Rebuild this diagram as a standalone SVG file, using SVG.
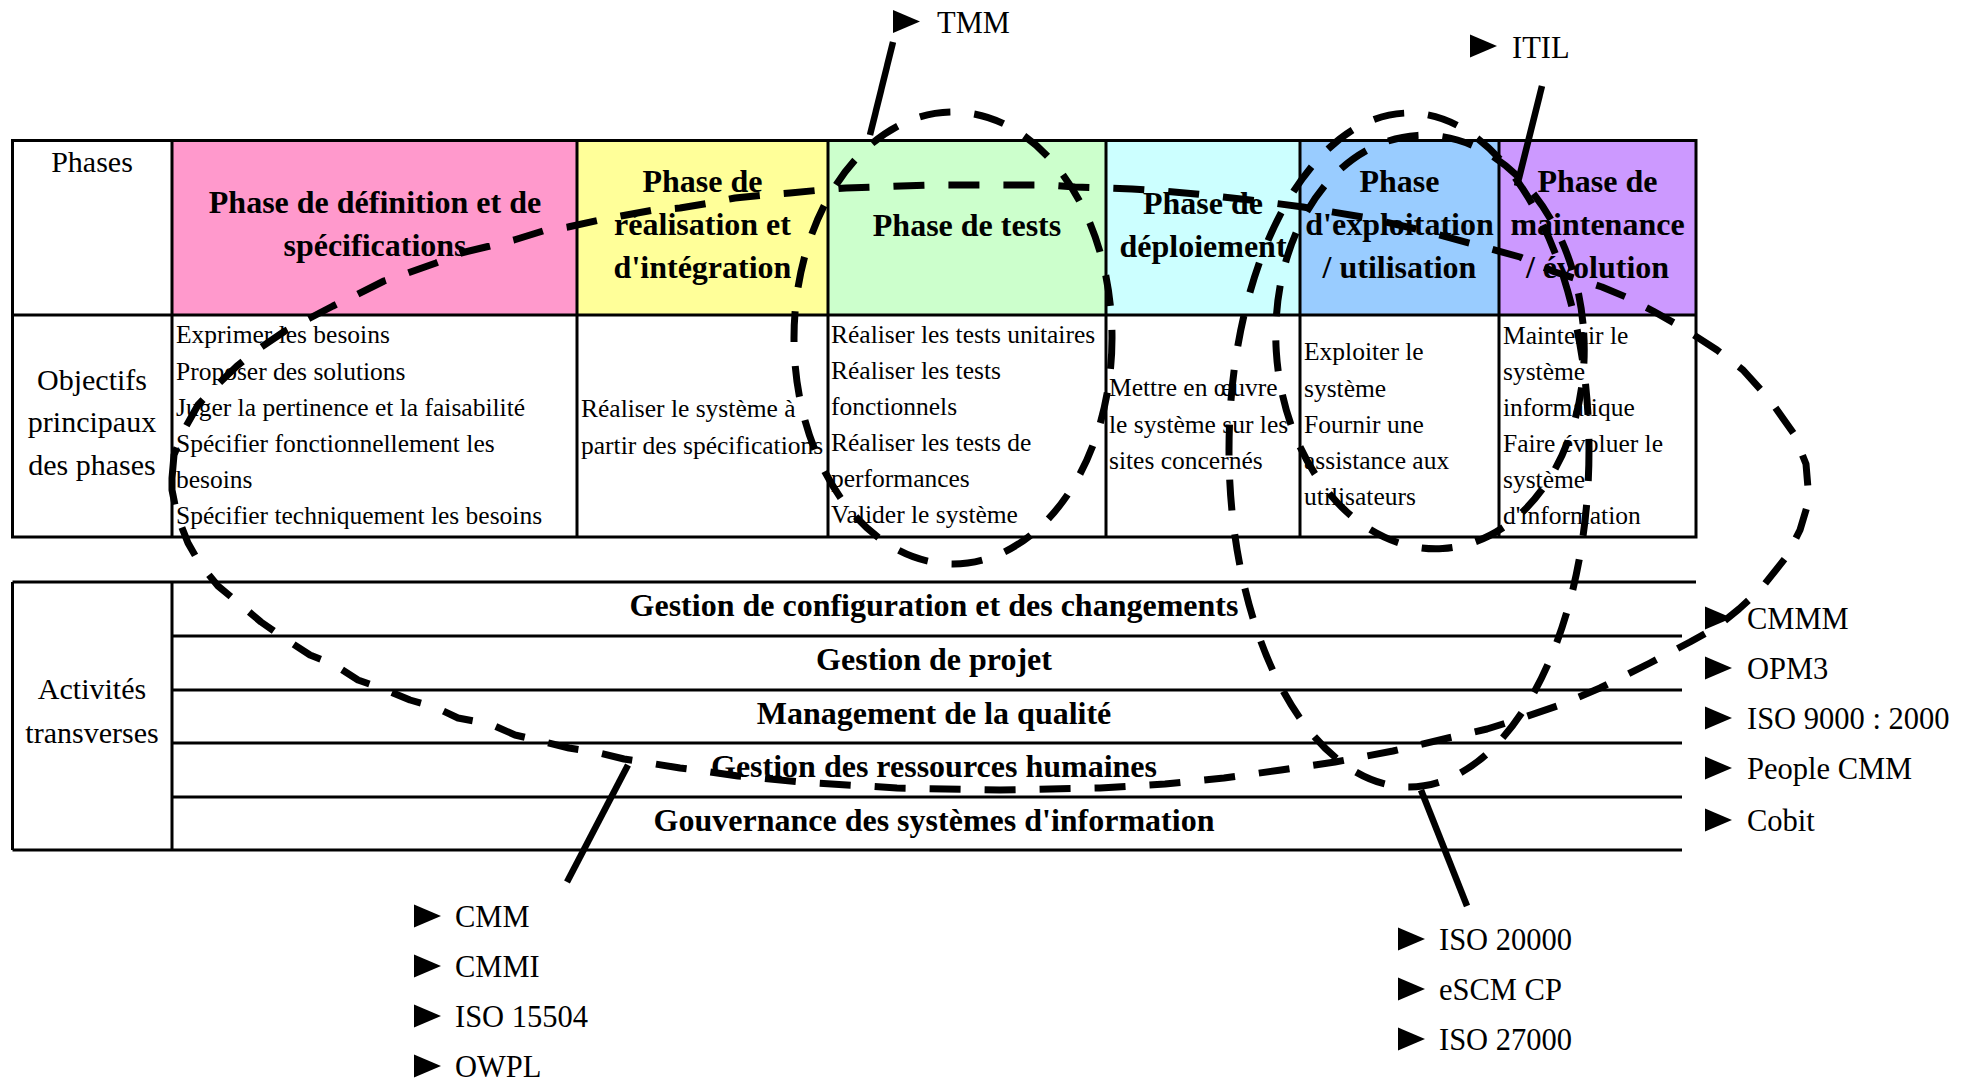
<svg xmlns="http://www.w3.org/2000/svg" xmlns:xlink="http://www.w3.org/1999/xlink" width="1968" height="1081" viewBox="0 0 1968 1081">
<style>
.grid{fill:none;stroke:#000;stroke-width:3}
.hd{font-family:'Liberation Serif','Times New Roman',serif;font-weight:bold;font-size:32px;text-anchor:middle;fill:#000}
.bd{font-family:'Liberation Serif','Times New Roman',serif;font-size:25.5px;fill:#000}
.lb{font-family:'Liberation Serif','Times New Roman',serif;font-size:30.5px;fill:#000}
.lc{font-family:'Liberation Serif','Times New Roman',serif;font-size:30px;fill:#000;text-anchor:middle}
.dash{fill:none;stroke:#000;stroke-width:7;stroke-dasharray:31 24;stroke-linejoin:round}
.lead{fill:none;stroke:#000;stroke-width:6.5}
</style>
<defs>
<path id="tri" d="M0,-11.5 L27,0 L0,11.5 Z" fill="#000"/>
</defs>
<rect x="0" y="0" width="1968" height="1081" fill="#fff"/>

<g id="phases-table">
<rect x="172" y="140.5" width="405" height="174.5" fill="#FF99CC"/>
<rect x="577" y="140.5" width="251" height="174.5" fill="#FFFF99"/>
<rect x="828" y="140.5" width="278" height="174.5" fill="#CCFFCC"/>
<rect x="1106" y="140.5" width="194" height="174.5" fill="#CCFFFF"/>
<rect x="1300" y="140.5" width="199" height="174.5" fill="#99CCFF"/>
<rect x="1499" y="140.5" width="197" height="174.5" fill="#CC99FF"/>
<rect class="grid" x="12.5" y="140.5" width="1683.5" height="396.5"/>
<path class="grid" d="M12.5,315 H1696 M172,140.5 V537 M577,140.5 V537 M828,140.5 V537 M1106,140.5 V537 M1300,140.5 V537 M1499,140.5 V537"/>
</g>

<g id="row-labels">
<text class="lc" x="92" y="172">Phases</text>
<text class="lc" x="92" y="390">Objectifs</text>
<text class="lc" x="92" y="432">principaux</text>
<text class="lc" x="92" y="475">des phases</text>
</g>

<g id="phase-definition">
<text class="hd" x="375" y="213">Phase de définition et de</text>
<text class="hd" x="375" y="256">spécifications</text>
<text class="bd" x="176" y="343">Exprimer les besoins</text>
<text class="bd" x="176" y="379.5">Proposer des solutions</text>
<text class="bd" x="176" y="416">Juger la pertinence et la faisabilité</text>
<text class="bd" x="176" y="452">Spécifier fonctionnellement les</text>
<text class="bd" x="176" y="488">besoins</text>
<text class="bd" x="176" y="524">Spécifier techniquement les besoins</text>
</g>

<g id="phase-realisation">
<text class="hd" x="702.5" y="192">Phase de</text>
<text class="hd" x="702.5" y="235">réalisation et</text>
<text class="hd" x="702.5" y="278">d'intégration</text>
<text class="bd" x="581" y="417">Réaliser le système à</text>
<text class="bd" x="581" y="453.5">partir des spécifications</text>
</g>

<g id="phase-tests">
<text class="hd" x="967" y="236">Phase de tests</text>
<text class="bd" x="831" y="343">Réaliser les tests unitaires</text>
<text class="bd" x="831" y="379">Réaliser les tests</text>
<text class="bd" x="831" y="415">fonctionnels</text>
<text class="bd" x="831" y="451">Réaliser les tests de</text>
<text class="bd" x="831" y="487">performances</text>
<text class="bd" x="831" y="523">Valider le système</text>
</g>

<g id="phase-deploiement">
<text class="hd" x="1203" y="214">Phase de</text>
<text class="hd" x="1203" y="257">déploiement</text>
<text class="bd" x="1109" y="396">Mettre en œuvre</text>
<text class="bd" x="1109" y="432.5">le système sur les</text>
<text class="bd" x="1109" y="469">sites concernés</text>
</g>

<g id="phase-exploitation">
<text class="hd" x="1399.5" y="192">Phase</text>
<text class="hd" x="1399.5" y="235">d'exploitation</text>
<text class="hd" x="1399.5" y="278">/ utilisation</text>
<text class="bd" x="1304" y="360">Exploiter le</text>
<text class="bd" x="1304" y="396.5">système</text>
<text class="bd" x="1304" y="432.5">Fournir une</text>
<text class="bd" x="1304" y="469">assistance aux</text>
<text class="bd" x="1304" y="505">utilisateurs</text>
</g>

<g id="phase-maintenance">
<text class="hd" x="1597.5" y="192">Phase de</text>
<text class="hd" x="1597.5" y="235">maintenance</text>
<text class="hd" x="1597.5" y="278">/ évolution</text>
<text class="bd" x="1503" y="343.5">Maintenir le</text>
<text class="bd" x="1503" y="379.5">système</text>
<text class="bd" x="1503" y="415.5">informatique</text>
<text class="bd" x="1503" y="451.5">Faire évoluer le</text>
<text class="bd" x="1503" y="487.5">système</text>
<text class="bd" x="1503" y="523.5">d'information</text>
</g>

<g id="activites-transverses">
<path class="grid" d="M12.5,582 H1696 M172,636 H1682 M172,690 H1682 M172,743 H1682 M172,797 H1682 M12.5,850 H1682 M12.5,582 V850 M172,582 V850"/>
<text class="lc" x="92" y="699">Activités</text>
<text class="lc" x="92" y="743">transverses</text>
<text class="hd" x="934" y="616">Gestion de configuration et des changements</text>
<text class="hd" x="934" y="670">Gestion de projet</text>
<text class="hd" x="934" y="724">Management de la qualité</text>
<text class="hd" x="934" y="777">Gestion des ressources humaines</text>
<text class="hd" x="934" y="831">Gouvernance des systèmes d'information</text>
</g>

<g id="label-tmm">
<use xlink:href="#tri" x="893" y="21.5"/>
<text class="lb" x="937" y="33">TMM</text>
</g>

<g id="label-itil">
<use xlink:href="#tri" x="1470" y="46"/>
<text class="lb" x="1512" y="58">ITIL</text>
</g>

<g id="labels-right">
<use xlink:href="#tri" x="1705" y="618"/>
<text class="lb" x="1747" y="629">CMMM</text>
<use xlink:href="#tri" x="1705" y="668"/>
<text class="lb" x="1747" y="679">OPM3</text>
<use xlink:href="#tri" x="1705" y="718"/>
<text class="lb" x="1747" y="729">ISO 9000 : 2000</text>
<use xlink:href="#tri" x="1705" y="768"/>
<text class="lb" x="1747" y="779">People CMM</text>
<use xlink:href="#tri" x="1705" y="820"/>
<text class="lb" x="1747" y="831">Cobit</text>
</g>

<g id="labels-cmm">
<use xlink:href="#tri" x="414" y="916"/>
<text class="lb" x="455" y="927">CMM</text>
<use xlink:href="#tri" x="414" y="966"/>
<text class="lb" x="455" y="977">CMMI</text>
<use xlink:href="#tri" x="414" y="1016"/>
<text class="lb" x="455" y="1027">ISO 15504</text>
<use xlink:href="#tri" x="414" y="1066"/>
<text class="lb" x="455" y="1077">OWPL</text>
</g>

<g id="labels-iso20000">
<use xlink:href="#tri" x="1398" y="939"/>
<text class="lb" x="1439" y="950">ISO 20000</text>
<use xlink:href="#tri" x="1398" y="989"/>
<text class="lb" x="1439" y="1000">eSCM CP</text>
<use xlink:href="#tri" x="1398" y="1039"/>
<text class="lb" x="1439" y="1050">ISO 27000</text>
</g>

<g id="connectors">
<ellipse class="dash" cx="953" cy="338" rx="159" ry="226"/>
<ellipse class="dash" cx="1409" cy="450" rx="180" ry="337"/>
<ellipse class="dash" cx="1430" cy="342" rx="154" ry="207" transform="rotate(-3.5 1430 342)"/>
<polygon class="dash" points="172,478 174,455 184,430 198,405 216,386 237,366 260,348 285,331 310,318 333,306 356,295 384,281 405,274 436,263 461,253 490,246 514,240 543,231 568,227 600,220 621,216 654,210 680,208 710,203 735,198 764,195 790,193 821,190 846,188 878,187 901,186 933,185 956,185 995,185 1020,185 1050,185 1075,187 1105,188 1132,189 1162,191 1196,194 1250,200 1303,207 1368,218 1425,231 1480,246 1520,257 1555,272 1602,287 1626,297 1653,311 1683,328 1717,350 1743,370 1770,400 1794,434 1806,464 1809,500 1800,530 1787,556 1760,590 1739,609 1717,627 1690,642 1650,663 1600,688 1560,705 1519,719 1487,729 1448,738 1393,751 1335,762 1281,770 1224,778 1165,784 1100,788 1000,790 897,788 800,782 738,776 704,771 680,768 649,763 624,759 595,752 569,748 541,741 515,735 490,724 458,718 435,707 410,700 381,688 358,680 333,664 310,655 284,638 261,622 235,600 218,586 200,564 188,543 177,515 172,490"/>
<line class="lead" x1="893" y1="42" x2="870" y2="135"/>
<line class="lead" x1="1542" y1="86" x2="1517" y2="186"/>
<line class="lead" x1="628" y1="765" x2="567" y2="882"/>
<line class="lead" x1="1421" y1="790" x2="1467" y2="906"/>
</g>
</svg>
